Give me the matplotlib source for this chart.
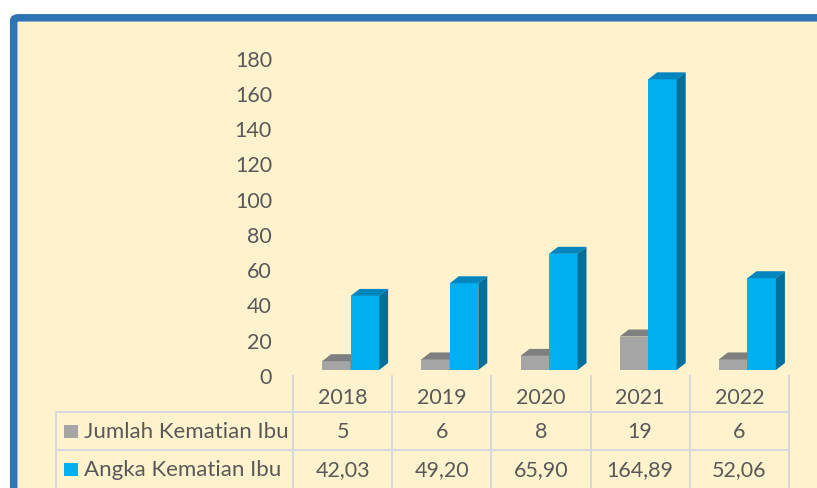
import matplotlib
matplotlib.use("Agg")
import matplotlib.pyplot as plt
from matplotlib.patches import Polygon, FancyBboxPatch, Rectangle
from matplotlib.transforms import blended_transform_factory, ScaledTranslation
from matplotlib.lines import Line2D

years = ["2018", "2019", "2020", "2021", "2022"]
jumlah = [5, 6, 8, 19, 6]
angka = [42.03, 49.20, 65.90, 164.89, 52.06]
series_names = ["Jumlah Kematian Ibu", "Angka Kematian Ibu"]
yticks = list(range(0, 181, 20))

W, H, DPI = 817, 488, 100
BG = "#FFF2CC"
BORDER = "#2E75B6"
TXT = "#595959"
GRID = "#D5D8E0"
FONT = "Lato"
FS = 15.5
FS_LEG = 16

grey_front, grey_top, grey_side = "#A5A5A5", "#7F7F7F", "#6E6E6E"
blue_front, blue_top, blue_side = "#00B0F0", "#0086BF", "#006F9A"

fig = plt.figure(figsize=(W / DPI, H / DPI), dpi=DPI)
fig.patch.set_facecolor("white")

def fx(px):
    return px / W

def fy(py):
    return (H - py) / H

# frame
frame = FancyBboxPatch((fx(13.7), fy(560)), fx(900), fy(17.8) - fy(560),
                       boxstyle="round,pad=0,rounding_size=0.006",
                       transform=fig.transFigure, facecolor=BG, edgecolor=BORDER,
                       linewidth=7.5 * 72 / DPI, zorder=-10)
fig.patches.append(frame)

ax_left, ax_right = 293, 789
y0px, ppu = 370, 317.3 / 180
ax_top = y0px - 180 * ppu
ax = fig.add_axes([fx(ax_left), fy(y0px), fx(ax_right - ax_left), fy(ax_top) - fy(y0px)])
ax.set_zorder(5)
ax.set_facecolor("none")
n = len(years)
ax.set_xlim(-0.5, n - 0.5)
ax.set_ylim(0, 180)
for s in ax.spines.values():
    s.set_visible(False)
ax.set_xticks([])
ax.set_yticks(yticks)
ax.set_yticklabels([str(t) for t in yticks], fontsize=FS, color=TXT, family=FONT)
ax.tick_params(axis="y", length=0, pad=21 * 72 / DPI)
off = ScaledTranslation(0, -6 / DPI, fig.dpi_scale_trans)
for lab in ax.get_yticklabels():
    lab.set_transform(lab.get_transform() + off)

cat_px = (ax_right - ax_left) / n
bw = 28.5 / cat_px
ddx = 9 / cat_px
ddy = 7 / ppu
g_off = -20.5 / cat_px

def bar3d(x0, v, fc, tc, sc, z):
    ax.bar(x0, v, bw, align="edge", color=fc, zorder=z, edgecolor="none")
    x1 = x0 + bw
    ax.add_patch(Polygon([(x0, v), (x1, v), (x1 + ddx, v + ddy), (x0 + ddx, v + ddy)],
                         closed=True, facecolor=tc, edgecolor="none", zorder=z))
    ax.add_patch(Polygon([(x1, 0), (x1, v), (x1 + ddx, v + ddy), (x1 + ddx, ddy)],
                         closed=True, facecolor=sc, edgecolor="none", zorder=z))

for i in range(n):
    gx = i + g_off
    bar3d(gx, jumlah[i], grey_front, grey_top, grey_side, 2 + i * 2)
    bar3d(gx + bw, angka[i], blue_front, blue_top, blue_side, 3 + i * 2)

# data table
tr = blended_transform_factory(ax.transData, fig.transFigure)
lw = 2 * 72 / DPI
for i in range(n + 1):
    ax.add_line(Line2D([i - 0.5, i - 0.5], [fy(376), fy(495)], transform=tr,
                       color=GRID, lw=lw, clip_on=False))
for ypx in (412, 450):
    fig.add_artist(Line2D([fx(56), fx(ax_right)], [fy(ypx), fy(ypx)],
                          transform=fig.transFigure, color=GRID, lw=lw))
fig.add_artist(Line2D([fx(56), fx(56)], [fy(412), fy(495)],
                      transform=fig.transFigure, color=GRID, lw=lw))

for i in range(n):
    ax.text(i, fy(397.5), years[i], transform=tr, ha="center", va="center",
            fontsize=FS, color=TXT, family=FONT, clip_on=False)
    ax.text(i, fy(432), str(jumlah[i]), transform=tr, ha="center", va="center",
            fontsize=FS, color=TXT, family=FONT, clip_on=False)
    ax.text(i, fy(470), f"{angka[i]:.2f}".replace(".", ","), transform=tr,
            ha="center", va="center", fontsize=FS, color=TXT, family=FONT, clip_on=False)

for (ypx, col, name) in ((431, grey_front, series_names[0]), (469, blue_front, series_names[1])):
    fig.patches.append(Rectangle((fx(64), fy(ypx + 6.5)), fx(13.5), fy(ypx - 6.5) - fy(ypx + 6.5),
                                 transform=fig.transFigure, facecolor=col, edgecolor="none"))
    fig.text(fx(84), fy(ypx + 1), name, ha="left", va="center", fontsize=FS_LEG,
             color=TXT, family=FONT)

fig.savefig("out.png", dpi=DPI, facecolor="white")
